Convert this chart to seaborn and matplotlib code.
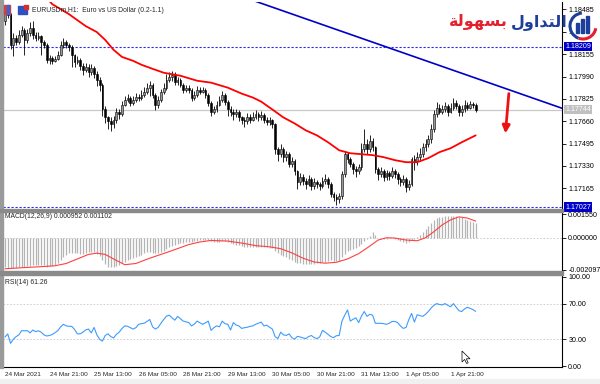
import numpy as np
import pandas as pd
import matplotlib
matplotlib.use("Agg")
import matplotlib.pyplot as plt
import seaborn as sns
from matplotlib.patches import Rectangle, Polygon, Circle, Arc

# ---- data (EURUSD H1, 24 Mar - 1 Apr 2021) ----
open_first = 1.18400
close = [1.18465, 1.18443, 1.18223, 1.18274, 1.18245, 1.18296, 1.18333, 1.18260, 1.18311, 1.18348,
         1.18296, 1.18274, 1.18289, 1.18245, 1.18223, 1.18113, 1.18128, 1.18106, 1.18121, 1.18150,
         1.18223, 1.18245, 1.18223, 1.18208, 1.18150, 1.18099, 1.18113, 1.18069, 1.18040, 1.18062,
         1.18025, 1.18055, 1.18011, 1.17967, 1.17930, 1.17747, 1.17688, 1.17659, 1.17637, 1.17673,
         1.17732, 1.17710, 1.17783, 1.17820, 1.17835, 1.17798, 1.17820, 1.17842, 1.17835, 1.17857,
         1.17879, 1.17908, 1.17930, 1.17857, 1.17783, 1.17820, 1.17879, 1.17908, 1.17967, 1.17989,
         1.18003, 1.17952, 1.17967, 1.17930, 1.17893, 1.17908, 1.17893, 1.17835, 1.17857, 1.17893,
         1.17879, 1.17893, 1.17857, 1.17798, 1.17732, 1.17747, 1.17783, 1.17820, 1.17857, 1.17805,
         1.17747, 1.17732, 1.17710, 1.17725, 1.17688, 1.17673, 1.17659, 1.17688, 1.17673, 1.17695,
         1.17710, 1.17688, 1.17703, 1.17673, 1.17651, 1.17666, 1.17637, 1.17454, 1.17417, 1.17454,
         1.17395, 1.17417, 1.17344, 1.17366, 1.17292, 1.17212, 1.17248, 1.17219, 1.17197, 1.17234,
         1.17182, 1.17212, 1.17197, 1.17182, 1.17219, 1.17234, 1.17197, 1.17124, 1.17102, 1.17087,
         1.17109, 1.17270, 1.17417, 1.17380, 1.17344, 1.17307, 1.17292, 1.17322, 1.17454, 1.17490,
         1.17454, 1.17512, 1.17468, 1.17307, 1.17270, 1.17292, 1.17248, 1.17278, 1.17256, 1.17292,
         1.17270, 1.17234, 1.17212, 1.17234, 1.17175, 1.17197, 1.17380, 1.17366, 1.17395, 1.17417,
         1.17468, 1.17490, 1.17527, 1.17600, 1.17710, 1.17761, 1.17732, 1.17747, 1.17769, 1.17732,
         1.17761, 1.17798, 1.17776, 1.17732, 1.17747, 1.17783, 1.17761, 1.17791, 1.17783, 1.17744]
high = [1.18500, 1.18490, 1.18460, 1.18310, 1.18300, 1.18330, 1.18360, 1.18345, 1.18340, 1.18390,
        1.18400, 1.18320, 1.18320, 1.18300, 1.18260, 1.18240, 1.18150, 1.18140, 1.18145, 1.18175,
        1.18250, 1.18275, 1.18260, 1.18240, 1.18220, 1.18160, 1.18140, 1.18125, 1.18090, 1.18090,
        1.18080, 1.18085, 1.18070, 1.18030, 1.17990, 1.17945, 1.17770, 1.17700, 1.17690, 1.17700,
        1.17760, 1.17750, 1.17810, 1.17850, 1.17860, 1.17850, 1.17845, 1.17870, 1.17860, 1.17890,
        1.17910, 1.17940, 1.17960, 1.17945, 1.17870, 1.17850, 1.17900, 1.17940, 1.18010, 1.18020,
        1.18030, 1.18020, 1.17990, 1.17980, 1.17945, 1.17930, 1.17925, 1.17905, 1.17880, 1.17920,
        1.17910, 1.17915, 1.17905, 1.17870, 1.17810, 1.17770, 1.17810, 1.17850, 1.17880, 1.17870,
        1.17820, 1.17770, 1.17750, 1.17750, 1.17740, 1.17700, 1.17690, 1.17720, 1.17710, 1.17730,
        1.17740, 1.17730, 1.17735, 1.17720, 1.17690, 1.17690, 1.17680, 1.17650, 1.17470, 1.17490,
        1.17470, 1.17440, 1.17430, 1.17400, 1.17380, 1.17300, 1.17280, 1.17270, 1.17240, 1.17260,
        1.17250, 1.17240, 1.17230, 1.17215, 1.17250, 1.17270, 1.17250, 1.17210, 1.17140, 1.17120,
        1.17130, 1.17290, 1.17440, 1.17430, 1.17400, 1.17360, 1.17330, 1.17345, 1.17500, 1.17600,
        1.17530, 1.17560, 1.17540, 1.17480, 1.17320, 1.17320, 1.17310, 1.17300, 1.17290, 1.17320,
        1.17310, 1.17285, 1.17250, 1.17260, 1.17250, 1.17230, 1.17400, 1.17410, 1.17430, 1.17460,
        1.17500, 1.17530, 1.17560, 1.17640, 1.17740, 1.17800, 1.17790, 1.17780, 1.17800, 1.17790,
        1.17795, 1.17830, 1.17820, 1.17790, 1.17780, 1.17815, 1.17800, 1.17810, 1.17805, 1.17795]
low = [1.18370, 1.18420, 1.18190, 1.18140, 1.18220, 1.18230, 1.18280, 1.18150, 1.18240, 1.18290,
       1.18270, 1.18250, 1.18260, 1.18150, 1.18200, 1.18090, 1.18080, 1.18085, 1.18095, 1.18110,
       1.18140, 1.18200, 1.18200, 1.18180, 1.18060, 1.18060, 1.18080, 1.18040, 1.18000, 1.18020,
       1.17990, 1.18000, 1.17980, 1.17920, 1.17880, 1.17700, 1.17650, 1.17600, 1.17590, 1.17610,
       1.17650, 1.17680, 1.17700, 1.17770, 1.17800, 1.17770, 1.17780, 1.17800, 1.17810, 1.17820,
       1.17840, 1.17860, 1.17850, 1.17830, 1.17740, 1.17760, 1.17800, 1.17860, 1.17890, 1.17950,
       1.17960, 1.17930, 1.17930, 1.17910, 1.17870, 1.17875, 1.17870, 1.17810, 1.17815, 1.17840,
       1.17860, 1.17865, 1.17830, 1.17770, 1.17700, 1.17710, 1.17730, 1.17770, 1.17800, 1.17780,
       1.17700, 1.17700, 1.17670, 1.17690, 1.17660, 1.17640, 1.17620, 1.17640, 1.17650, 1.17660,
       1.17680, 1.17665, 1.17670, 1.17650, 1.17630, 1.17630, 1.17610, 1.17420, 1.17370, 1.17400,
       1.17360, 1.17370, 1.17320, 1.17320, 1.17260, 1.17160, 1.17190, 1.17190, 1.17160, 1.17180,
       1.17150, 1.17160, 1.17170, 1.17150, 1.17165, 1.17200, 1.17170, 1.17100, 1.17070, 1.17045,
       1.17060, 1.17090, 1.17250, 1.17350, 1.17320, 1.17270, 1.17250, 1.17270, 1.17300, 1.17430,
       1.17420, 1.17430, 1.17440, 1.17280, 1.17230, 1.17250, 1.17220, 1.17230, 1.17230, 1.17240,
       1.17240, 1.17200, 1.17180, 1.17190, 1.17140, 1.17150, 1.17180, 1.17300, 1.17340, 1.17370,
       1.17400, 1.17440, 1.17470, 1.17500, 1.17580, 1.17690, 1.17710, 1.17710, 1.17730, 1.17700,
       1.17720, 1.17740, 1.17750, 1.17700, 1.17700, 1.17730, 1.17740, 1.17750, 1.17760, 1.17730]

# red moving average, read at selected bars
ma_bar = [13, 17, 20, 23, 26, 29, 33, 36, 39, 42, 46, 49, 53, 57, 63, 69, 74, 80, 85, 89, 92, 96,
          100, 104, 108, 112, 116, 120, 124, 128, 132, 136, 140, 144, 148, 152, 156, 160, 164, 169]
ma_val = [1.18612, 1.18524, 1.18487, 1.18450, 1.18406, 1.18362, 1.18318, 1.18260, 1.18187, 1.18135,
          1.18106, 1.18077, 1.18047, 1.18018, 1.17996, 1.17959, 1.17945, 1.17908, 1.17864, 1.17835,
          1.17805, 1.17747, 1.17688, 1.17644, 1.17593, 1.17556, 1.17505, 1.17446, 1.17424, 1.17417,
          1.17410, 1.17395, 1.17373, 1.17358, 1.17358, 1.17388, 1.17432, 1.17461, 1.17505, 1.17556]

# blue trend line (two anchors) and horizontal levels
trend_bar = [90, 200]
trend_price = [1.18545, 1.17756]
level_lines = [1.18209, 1.17027]
bid_price = 1.17744
arrow_bar = [181, 179.6]
arrow_price = [1.17885, 1.17550]

# MACD(12,26,9) main (histogram) per bar, in 1e-5
macd = [-196, -200, -203, -200, -198, -195, -192,
        -192, -188, -184, -182, -182, -180, -178,
        -180, -190, -188, -185, -178, -165, -145,
        -125, -112, -104, -100, -103, -104, -106,
        -105, -100, -97, -92, -95, -105, -118,
        -150, -175, -190, -196, -194, -188, -180,
        -170, -158, -148, -140, -133, -126, -120,
        -112, -104, -97, -97, -99, -104, -103,
        -95, -85, -73, -62, -52, -48, -42,
        -38, -35, -31, -28, -26, -24, -20,
        -15, -12, -12, -15, -22, -26, -27,
        -25, -22, -24, -30, -35, -40, -45,
        -50, -54, -58, -60, -62, -62, -62,
        -62, -62, -63, -64, -65, -66, -85,
        -100, -112, -122, -130, -140, -148, -158,
        -166, -170, -172, -173, -172, -172, -171,
        -169, -166, -162, -157, -153, -150, -152,
        -155, -152, -130, -105, -90, -80, -72,
        -65, -55, -40, -20, -8, 10, 35,
        15, 0, -3, -5, -5, -3, -2,
        -8, -15, -22, -28, -33, -30, -12,
        -5, 5, 20, 37, 55, 75, 99,
        118, 128, 135, 139, 141, 142, 143,
        143, 142, 139, 134, 126, 117, 108,
        101, 95]
macd = [v * 1e-5 for v in macd]
sig_bar = [0, 6, 12, 18, 22, 26, 30, 33, 36, 39, 43, 47, 52, 56, 60, 66, 70, 74, 80, 85, 90, 95,
           99, 103, 107, 111, 115, 119, 123, 127, 131, 134, 137, 140, 144, 148, 151, 154, 157,
           160, 163, 166, 169]
sig_val = [-205, -198, -192, -185, -170, -140, -110, -102, -110, -140, -178, -170, -135, -110,
           -85, -45, -28, -18, -22, -35, -52, -60, -72, -100, -135, -160, -168, -162, -140, -105,
           -55, -15, 0, -2, -15, -20, 0, 40, 85, 118, 138, 130, 110]
sig_val = [v * 1e-5 for v in sig_val]

# RSI(14) per bar
rsi = [32.6, 36.0, 25.5, 30.0, 33.0, 35.0, 39.7, 39.5, 39.7, 37.2,
       40.4, 38.6, 39.5, 38.0, 35.0, 33.7, 34.3, 35.4, 37.5, 39.7,
       44.0, 46.8, 45.0, 44.6, 44.4, 41.0, 36.1, 36.1, 38.0, 40.5,
       41.5, 37.2, 43.3, 35.0, 30.0, 28.0, 34.3, 36.1, 33.0, 31.5,
       35.5, 38.0, 42.0, 45.0, 44.6, 43.0, 41.5, 43.0, 46.8, 47.5,
       48.0, 50.0, 52.2, 44.0, 41.5, 43.3, 48.0, 52.2, 56.0, 57.0,
       54.0, 51.4, 55.7, 53.0, 50.4, 49.5, 48.7, 45.0, 47.0, 50.4,
       48.5, 46.8, 48.5, 50.4, 40.0, 43.0, 45.0, 44.0, 50.4, 47.5,
       46.8, 40.4, 48.7, 46.0, 45.0, 42.2, 43.0, 43.5, 44.5, 45.0,
       46.8, 48.0, 49.3, 45.0, 45.8, 43.5, 41.5, 33.0, 30.8, 38.0,
       35.0, 34.3, 36.1, 32.0, 30.1, 33.3, 32.6, 31.5, 30.8, 33.0,
       34.3, 32.0, 30.8, 32.6, 40.0, 38.0, 35.5, 33.0, 31.9, 34.0,
       34.3, 50.4, 57.0, 62.9, 50.4, 52.5, 54.0, 48.7, 56.0, 61.1,
       55.7, 58.0, 57.0, 47.9, 47.9, 47.9, 47.5, 46.8, 48.0, 50.0,
       50.0, 48.7, 45.0, 42.2, 43.3, 52.0, 59.0, 49.3, 57.5, 56.5,
       55.7, 58.0, 61.1, 65.0, 68.0, 70.0, 69.0, 68.5, 70.0, 68.0,
       66.4, 70.0, 66.0, 62.0, 61.1, 64.0, 65.8, 64.7, 63.3, 61.3]

tick_bars = [0, 16, 32, 48, 64, 80, 96, 112, 128, 144, 160]
tick_labels = ["24 Mar 2021", "24 Mar 21:00", "25 Mar 13:00", "26 Mar 05:00", "28 Mar 21:00",
               "29 Mar 13:00", "30 Mar 05:00", "30 Mar 21:00", "31 Mar 13:00", "1 Apr 05:00",
               "1 Apr 21:00"]
price_ticks = [1.18485, 1.18320, 1.18155, 1.17990, 1.17825, 1.17660, 1.17495, 1.17330, 1.17165]
macd_ticks = [-0.002097, 0.0, 0.001550]
rsi_ticks = [0, 30, 70, 100]

# ---- drawing ----
sns.set_style("white")
plt.rcParams['font.family'] = ['Liberation Sans', 'DejaVu Sans']
FS = 5.1
W, H = 600, 384

df = pd.DataFrame({"bar": np.arange(len(close)), "open": [open_first] + close[:-1],
                   "high": high, "low": low, "close": close})
df["bull"] = df["close"] >= df["open"]

fig = plt.figure(figsize=(6, 3.84), dpi=100)
fig.patch.set_facecolor("white")


def box(y0, y1):
    return [3 / W, 1 - y1 / H, 559 / W, (y1 - y0) / H]


ax = fig.add_axes(box(2, 208))
ax_m = fig.add_axes(box(212, 270), sharex=ax)
ax_r = fig.add_axes(box(275, 367), sharex=ax)

# candles
ax.vlines(df["bar"], df["low"], df["high"], color="black", lw=0.6, zorder=3)
body_lo = df[["open", "close"]].min(axis=1)
body_h = (df["close"] - df["open"]).abs().clip(lower=0.00003)
ax.bar(df["bar"], body_h, bottom=body_lo, width=0.62,
       color=np.where(df["bull"], "#989898", "black"), edgecolor="black", linewidth=0.4, zorder=4)

sns.lineplot(x=ma_bar, y=ma_val, ax=ax, color="#ff0000", linewidth=1.3, zorder=5)
sns.lineplot(x=trend_bar, y=trend_price, ax=ax, color="#0000c8", linewidth=1.2, zorder=5)
for lv in level_lines:
    ax.axhline(lv, color="#2828ff", lw=0.8, ls=(0, (2, 1.6)), zorder=2)
ax.axhline(bid_price, color="#c8c8c8", lw=0.9, zorder=1)
ax.annotate("", xy=(arrow_bar[1], arrow_price[1]), xytext=(arrow_bar[0], arrow_price[0]),
            arrowprops=dict(arrowstyle="-|>", color="#ee1111", lw=2, mutation_scale=11), zorder=6)

ax.set_xlim(-0.7, 200)
ax.set_ylim(1.17020, 1.18540)
ax.yaxis.tick_right()
ax.set_yticks(price_ticks)
ax.set_yticklabels([f"{v:.5f}" for v in price_ticks])

# MACD
ax_m.vlines(np.arange(len(macd)), 0, macd, color="#b4b4b4", lw=0.9, zorder=2)
ax_m.axhline(0, color="#c8c8c8", lw=0.6, ls=(0, (2, 2)), zorder=1)
sns.lineplot(x=sig_bar, y=sig_val, ax=ax_m, color="#ff4040", linewidth=0.8, zorder=3)
ax_m.set_ylim(-0.00213, 0.00170)
ax_m.yaxis.tick_right()
ax_m.set_yticks(macd_ticks)
ax_m.set_yticklabels([f"{v:.6f}" for v in macd_ticks])

# RSI
sns.lineplot(x=np.arange(len(rsi)), y=rsi, ax=ax_r, color="#3d9bff", linewidth=0.8, zorder=3)
for lv in (70, 30):
    ax_r.axhline(lv, color="#c8c8c8", lw=0.6, ls=(0, (2, 2)), zorder=1)
ax_r.set_ylim(-1, 102)
ax_r.yaxis.tick_right()
ax_r.set_yticks(rsi_ticks)
ax_r.set_yticklabels([f"{v:.2f}" for v in rsi_ticks])
ax_r.set_xticks(tick_bars)
ax_r.set_xticklabels(tick_labels, ha="left")

for a in (ax, ax_m, ax_r):
    a.set_facecolor("white")
    a.set_xlabel("")
    a.set_ylabel("")
    for s in ("top", "left", "bottom"):
        a.spines[s].set_visible(False)
    a.spines["right"].set_color("black")
    a.spines["right"].set_linewidth(0.8)
    a.tick_params(axis="y", direction="out", length=3, width=0.6, labelsize=FS, pad=1.5,
                  colors="black")
    if a is not ax_r:
        a.tick_params(axis="x", bottom=False, labelbottom=False)
ax_r.spines["bottom"].set_visible(True)
ax_r.spines["bottom"].set_color("black")
ax_r.spines["bottom"].set_linewidth(0.8)
ax_r.tick_params(axis="x", direction="out", length=3, width=0.6, labelsize=4.55, pad=0.4)

# highlighted price labels
ytr = ax.get_yaxis_transform()
for p, fc in ((level_lines[0], "#0000c8"), (bid_price, "#c0c0c0"), (level_lines[1], "#0000c8")):
    ax.text(1.0 + 3 / 559, p, f"{p:.5f}", transform=ytr, fontsize=FS, color="white",
            va="center", ha="left", zorder=10, clip_on=False,
            bbox=dict(boxstyle="square,pad=0.15", fc=fc, ec="none"))


# frame pieces
def px_rect(x0, y0, x1, y1, color):
    fig.patches.append(Rectangle((x0 / W, 1 - y1 / H), (x1 - x0) / W, (y1 - y0) / H,
                                 transform=fig.transFigure, color=color, zorder=0))


px_rect(0, 0, 2.5, 368, "#9a9a9a")
px_rect(0, 208.5, 563, 211.5, "#8a8a8a")
px_rect(0, 270.5, 563, 274.5, "#8a8a8a")
px_rect(0, 379, 600, 384, "#f0f0f0")


def ftext(x, y, s, **kw):
    fig.text(x / W, 1 - y / H, s, **kw)


ftext(32, 10, "EURUSDm,H1:  Euro vs US Dollar (0.2-1.1)", fontsize=4.9, va="center")
ftext(5, 217, "MACD(12,26,9) 0.000952 0.001102", fontsize=4.9, va="center")
ftext(5, 282, "RSI(14) 61.26", fontsize=4.9, va="center")
px_rect(4, 5, 10, 14, "#d04040")
px_rect(7, 5, 9, 14, "#4060d0")
px_rect(18, 6, 27, 14, "#3050c0")
px_rect(24, 5, 28, 9, "#d03030")

# logo: Arabic text (presentation forms, visual order) and emblem
ftext(508, 22, "\uFE94\uFEDF\uFEEE\uFEEC\uFEB4\uFE91", fontsize=11.5, weight="bold",
      color="#e4202c", ha="right", va="center", family=["DejaVu Sans"], zorder=20)
ftext(511, 22, "\uFEDD\uFEED\uFE8D\uFEAA\uFE98\uFEDF\uFE8D", fontsize=11.5, weight="bold",
      color="#1d3f9a", ha="left", va="center", family=["DejaVu Sans"], zorder=20)
lax = fig.add_axes([568 / W, 1 - 41 / H, 30 / W, 30 / H])
lax.set_xlim(0, 30)
lax.set_ylim(0, 30)
lax.axis("off")
lax.add_patch(Circle((15, 15), 13.5, color="white", zorder=0))
lax.add_patch(Arc((15, 15), 26, 26, theta1=95, theta2=250, color="#1d3f9a", lw=2.2))
for bx, bh in ((8, 10), (13, 14), (18, 17)):
    lax.add_patch(Rectangle((bx, 8), 3.2, bh, color="#1d3f9a"))
lax.add_patch(Arc((15, 15), 26, 26, theta1=250, theta2=350, color="#e4202c", lw=2.2))

# mouse cursor
cur = np.array([(0, 0), (0, 11), (2.6, 8.4), (4.6, 12.5), (6.2, 11.8), (4.3, 7.8), (8, 7.8)])
fig.patches.append(Polygon([((462 + cx) / W, 1 - (351 + cy) / H) for cx, cy in cur],
                           closed=True, transform=fig.transFigure, fc="white", ec="black",
                           lw=0.5, zorder=30))

fig.savefig("out.png", dpi=100)
